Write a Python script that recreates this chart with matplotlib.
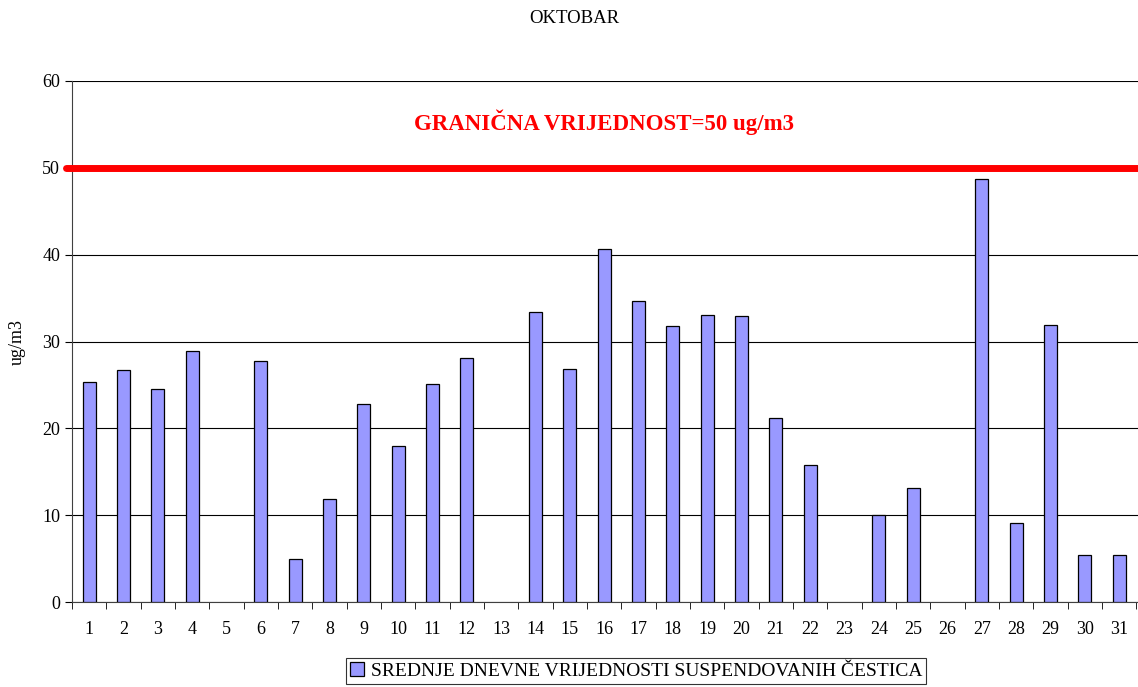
import matplotlib.pyplot as plt
from matplotlib.ticker import MultipleLocator, FixedLocator

plt.rcParams['font.family'] = ['Liberation Serif', 'DejaVu Serif']

dani = list(range(1, 32))
vrijednosti = [25.3, 26.7, 24.5, 28.9, 0, 27.8, 5.0, 11.9, 22.8, 18.0,
               25.1, 28.1, 0, 33.4, 26.8, 40.6, 34.7, 31.8, 33.1, 32.9,
               21.2, 15.8, 0, 10.0, 13.1, 0, 48.7, 9.1, 31.9, 5.4, 5.4]
granica = 50

fig = plt.figure(figsize=(11.38, 6.87), dpi=100)
ax = fig.add_axes([0.0633, 0.1237, 0.9367, 0.7584])

# dani bez mjerenja (0) se ne crtaju
x_ima = [d for d, v in zip(dani, vrijednosti) if v > 0]
v_ima = [v for v in vrijednosti if v > 0]
ax.bar(x_ima, v_ima, width=0.38, color='#9999FF', edgecolor='black',
       linewidth=0.9, zorder=3, label='SREDNJE DNEVNE VRIJEDNOSTI SUSPENDOVANIH ČESTICA')
ax.axhline(granica, xmin=-0.006, xmax=1, color='#FF0000', linewidth=5,
           solid_capstyle='round', zorder=4, clip_on=False)
ax.text(16.0, 55.3, 'GRANIČNA VRIJEDNOST=50 ug/m3', color='#FF0000',
        fontsize=16.5, fontweight='bold', ha='center', va='center')

ax.set_xlim(0.5, 31.55)
ax.set_ylim(0, 60)
ax.yaxis.set_major_locator(MultipleLocator(10))
ax.grid(axis='y', color='black', linewidth=0.8, zorder=0)
ax.set_axisbelow(True)
ax.get_ygridlines()[-1].set_color('#808080')

ax.set_xticks(dani)
ax.set_xticklabels([str(d) for d in dani])
ax.xaxis.set_minor_locator(FixedLocator([d + 0.5 for d in range(0, 32)]))
ax.tick_params(axis='x', which='major', length=0, labelsize=13, pad=14)
ax.tick_params(axis='x', which='minor', length=5, direction='out')
ax.tick_params(axis='y', length=5, direction='out', labelsize=13)

for s in ['top', 'right']:
    ax.spines[s].set_visible(False)
ax.spines['left'].set_color('#404040')
ax.spines['bottom'].set_color('#404040')

ax.set_ylabel('ug/m3', fontsize=13, labelpad=12)
fig.suptitle('OKTOBAR', x=0.505, y=0.985, fontsize=13.5)

leg = fig.legend(loc='upper center', bbox_to_anchor=(0.559, 0.042), fontsize=14,
                 frameon=True, fancybox=False, edgecolor='black',
                 handlelength=0.7, handleheight=0.7, handletextpad=0.35,
                 borderpad=0.2, borderaxespad=0)
leg.get_frame().set_linewidth(0.8)

fig.savefig('out.png', dpi=100)
